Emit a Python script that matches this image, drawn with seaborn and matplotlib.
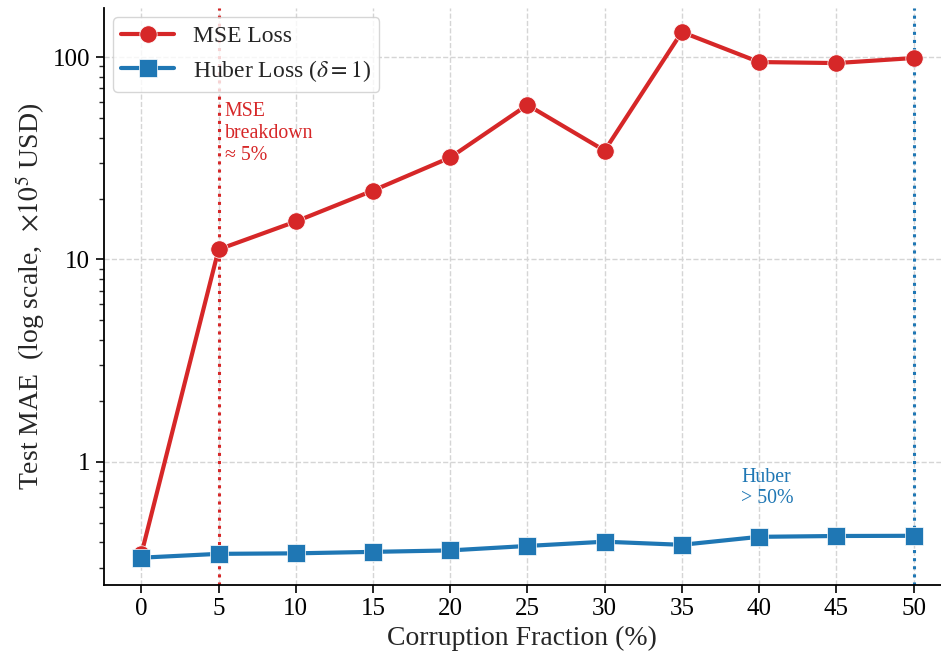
import numpy as np
import pandas as pd
import seaborn as sns
import matplotlib
matplotlib.use("Agg")
import matplotlib.pyplot as plt
from matplotlib.ticker import FixedLocator, FuncFormatter, LogLocator, NullFormatter

# Corruption fraction (%) and test MAE (x1e5 USD) for each loss
corruption = [0, 5, 10, 15, 20, 25, 30, 35, 40, 45, 50]
mse_mae = [0.35, 11.2, 15.4, 21.9, 31.9, 58.0, 34.5, 133.0, 94.5, 93.4, 98.9]
huber_mae = [0.336, 0.351, 0.353, 0.359, 0.365, 0.384, 0.403, 0.389, 0.426, 0.430, 0.431]
x_ticks = [0, 5, 10, 15, 20, 25, 30, 35, 40, 45, 50]
y_ticks = [1, 10, 100]

mse_label = "MSE Loss"
huber_label = r"Huber Loss ($\delta=1$)"

sns.set_theme(style="ticks")
plt.rcParams["font.family"] = ["Liberation Serif", "DejaVu Serif"]
plt.rcParams["mathtext.fontset"] = "stix"

RED = "#d62728"
BLUE = "#1f77b4"

df = pd.DataFrame({
    "corruption": corruption * 2,
    "mae": mse_mae + huber_mae,
    "loss": [mse_label] * len(corruption) + [huber_label] * len(corruption),
})

fig, ax = plt.subplots(figsize=(9.41, 6.57), dpi=100)

sns.lineplot(
    data=df, x="corruption", y="mae", hue="loss", style="loss",
    palette={mse_label: RED, huber_label: BLUE},
    markers={mse_label: "o", huber_label: "s"}, dashes=False,
    markersize=12.5, linewidth=3.0, markeredgewidth=0.5, ax=ax, zorder=3,
)
ax.set_yscale("log")

# breakdown markers
ax.axvline(5, color=RED, linestyle=":", linewidth=2.2, zorder=2)
ax.axvline(50, color=BLUE, linestyle=":", linewidth=2.2, zorder=2)
ax.text(5.4, 60, "MSE\nbreakdown\n≈ 5%", color=RED, fontsize=14.3,
        ha="left", va="top", linespacing=1.2)
ax.text(40.5, 0.74, "Huber\n> 50%", color=BLUE, fontsize=14.3,
        ha="center", va="center", linespacing=1.15)

ax.set_xlim(-2.45, 51.75)
ax.set_ylim(0.247, 175)
ax.xaxis.set_major_locator(FixedLocator(x_ticks))
ax.yaxis.set_major_locator(FixedLocator(y_ticks))
ax.yaxis.set_major_formatter(FuncFormatter(lambda v, p: f"{v:g}"))
ax.yaxis.set_minor_locator(LogLocator(base=10, subs=np.arange(2, 10)))
ax.yaxis.set_minor_formatter(NullFormatter())

ax.grid(True, which="major", linestyle="--", color="#d5d5d5", linewidth=1.0)
ax.tick_params(axis="both", which="major", labelsize=18, length=6, width=1.2, colors="black")
ax.tick_params(axis="y", which="minor", length=3.5, width=1.0)
for s in ("left", "bottom"):
    ax.spines[s].set_linewidth(1.3)
    ax.spines[s].set_color("black")
sns.despine(ax=ax)

ax.set_xlabel("Corruption Fraction (%)", fontsize=20)
ax.set_ylabel(r"Test MAE  (log scale,  $\times10^5$ USD)", fontsize=20)

leg = ax.legend(loc="upper left", fontsize=17, frameon=True, fancybox=True,
                borderpad=0.35, labelspacing=0.45, handlelength=2.25,
                borderaxespad=0.4)
leg.get_frame().set_edgecolor("#cccccc")
leg.set_title(None)

fig.subplots_adjust(left=0.11, right=0.9995, top=0.988, bottom=0.11)
fig.savefig("out.png", dpi=100)
